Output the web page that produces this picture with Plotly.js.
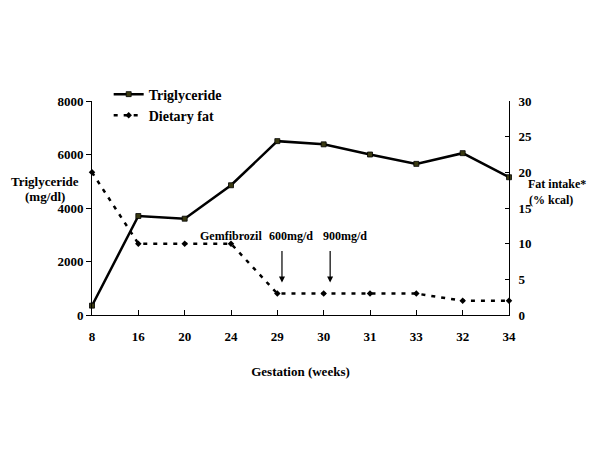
<!DOCTYPE html>
<html>
<head>
<meta charset="utf-8">
<script src="https://cdn.plot.ly/plotly-3.0.1.min.js"></script>
<style>html,body{margin:0;padding:0;background:#fff;}#chart{width:600px;height:450px;}</style>
</head>
<body>
<div id="chart"></div>
<script>
var weeks = ["8","16","20","24","29","30","31","33","32","34"];
var triglyceride = [350, 3700, 3600, 4850, 6500, 6380, 6000, 5650, 6050, 5150];
var dietaryFat = [20, 10, 10, 10, 3, 3, 3, 3, 2, 2];
var leftTicks = [0, 2000, 4000, 6000, 8000];
var rightTicks = [0, 5, 10, 15, 20, 25, 30];

var F = "Liberation Serif, Times New Roman, serif";
var font13 = {family: F, size: 13, color: "#000", weight: 700};
var font12 = {family: F, size: 12, color: "#000", weight: 700};

var traces = [
  {
    x: weeks, y: triglyceride, name: "Triglyceride", type: "scatter", mode: "lines+markers",
    line: {color: "#000", width: 2.5},
    marker: {symbol: "square", size: 5, color: "#3a3a12", line: {color: "#000", width: 0.8}},
    cliponaxis: false
  },
  {
    x: weeks, y: dietaryFat, name: "Dietary fat", type: "scatter", mode: "lines+markers", yaxis: "y2",
    line: {color: "#000", width: 2.5, dash: "4px,6px"},
    marker: {symbol: "diamond", size: 5, color: "#000"},
    cliponaxis: false
  }
];

var layout = {
  width: 600, height: 450,
  margin: {l: 92, r: 91, t: 101, b: 134.5},
  paper_bgcolor: "#fff", plot_bgcolor: "#fff",
  showlegend: true,
  legend: {x: 0.04, y: 1.105, xanchor: "left", yanchor: "top", bgcolor: "rgba(0,0,0,0)",
           font: {family: F, size: 14, color: "#000", weight: 700}},
  xaxis: {
    type: "category", range: [0, 9], showgrid: false, zeroline: false,
    showline: true, linecolor: "#000", linewidth: 1,
    ticks: "inside", ticklen: 5, tickcolor: "#000",
    tickfont: font13, ticklabelstandoff: 9,
    title: {text: "Gestation (weeks)", font: font13, standoff: 24}
  },
  yaxis: {
    range: [0, 8000], tickvals: leftTicks, showgrid: false, zeroline: false,
    showline: true, linecolor: "#000", linewidth: 1,
    ticks: "outside", ticklen: 5, tickcolor: "#000", tickfont: font13
  },
  yaxis2: {
    range: [0, 30], tickvals: rightTicks, overlaying: "y", side: "right",
    showgrid: false, zeroline: false,
    showline: true, linecolor: "#000", linewidth: 1,
    ticks: "inside", ticklen: 4, tickcolor: "#000", tickfont: font13, ticklabelstandoff: 6
  },
  annotations: [
    {xref: "paper", yref: "paper", x: -0.113, y: (315.5 - 182) / 214, xanchor: "center", yanchor: "middle",
     text: "Triglyceride", showarrow: false, font: font13},
    {xref: "paper", yref: "paper", x: -0.113, y: (315.5 - 197) / 214, xanchor: "center", yanchor: "middle",
     text: "(mg/dl)", showarrow: false, font: font13},
    {xref: "paper", yref: "paper", x: 1.04, y: (315.5 - 184) / 214, xanchor: "left", yanchor: "middle",
     text: "Fat intake*", showarrow: false, font: font12},
    {xref: "paper", yref: "paper", x: 1.043, y: (315.5 - 200) / 214, xanchor: "left", yanchor: "middle",
     text: "(% kcal)", showarrow: false, font: font12},
    {xref: "x", yref: "y2", x: 3.0, y: 11.1, text: "Gemfibrozil", showarrow: false, font: font12},
    {xref: "x", yref: "y2", x: 4.3, y: 11.1, text: "600mg/d", showarrow: false, font: font12},
    {xref: "x", yref: "y2", x: 5.46, y: 11.1, text: "900mg/d", showarrow: false, font: font12},
    {xref: "x", yref: "y2", x: 4.1, y: 4.56, text: "", showarrow: true, ax: 0, ay: -33,
     arrowhead: 2, arrowsize: 1, arrowwidth: 1.2, arrowcolor: "#000"},
    {xref: "x", yref: "y2", x: 5.14, y: 4.56, text: "", showarrow: true, ax: 0, ay: -33,
     arrowhead: 2, arrowsize: 1, arrowwidth: 1.2, arrowcolor: "#000"}
  ]
};

Plotly.newPlot("chart", traces, layout, {displayModeBar: false, staticPlot: true});
</script>
</body>
</html>
